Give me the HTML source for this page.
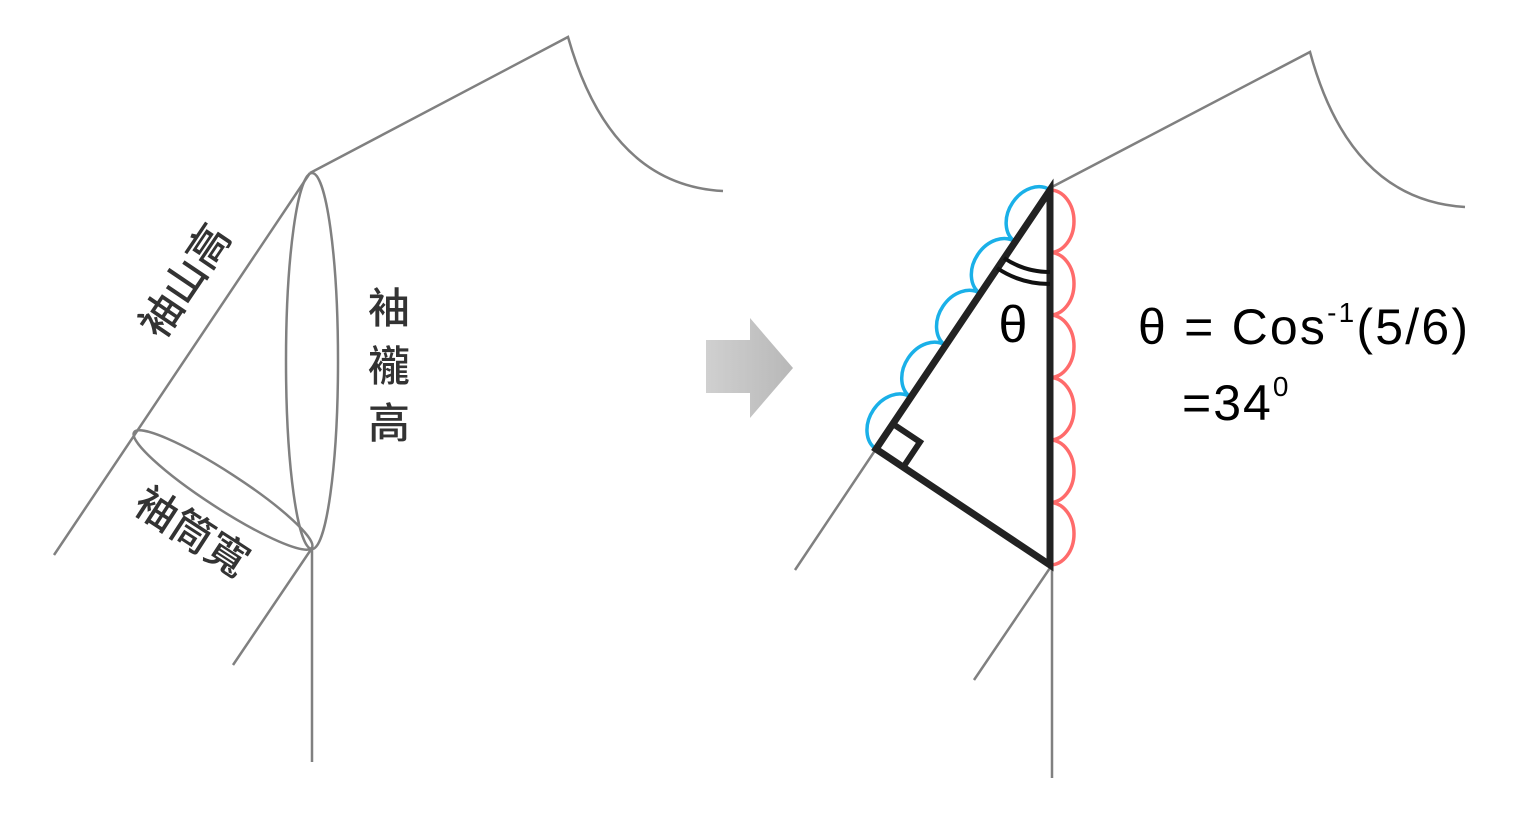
<!DOCTYPE html>
<html><head><meta charset="utf-8"><style>
html,body{margin:0;padding:0;background:#fff;}
svg{display:block}
.cjk{font-family:"Liberation Sans","Noto Sans CJK TC",sans-serif;fill:#333;font-weight:500}
.f{font-family:"Liberation Sans","DejaVu Sans",sans-serif;fill:#000}
</style></head><body>
<svg width="1536" height="823" viewBox="0 0 1536 823" xmlns="http://www.w3.org/2000/svg">
<defs><linearGradient id="g" x1="0" y1="0" x2="1" y2="0"><stop offset="0" stop-color="#d0d0d0"/><stop offset="1" stop-color="#b8b8b8"/></linearGradient></defs>
<g fill="none" stroke="#808080" stroke-width="2.5">
<path d="M310 173 L568 37 Q610 185 723 191"/>
<path d="M310 173 L54 555"/>
<path d="M312 548 L312 762 M312 548 L233 665"/>
<ellipse cx="312" cy="361" rx="26" ry="188"/>
<ellipse cx="223" cy="490" rx="106" ry="18" transform="rotate(33 223 490)"/>
<path d="M1050 188 L1310 52 Q1350 200 1465 207"/>
<path d="M876 449 L795 570 M1052 565 L974 680 M1052 565 L1052 778"/>
</g>
<text class="cjk" font-size="42" transform="translate(188,283) rotate(-56)" text-anchor="middle" dominant-baseline="middle">袖山高</text>
<text class="cjk" font-size="42" x="389" y="323" text-anchor="middle">袖</text>
<text class="cjk" font-size="42" x="389" y="381" text-anchor="middle">襱</text>
<text class="cjk" font-size="42" x="389" y="438" text-anchor="middle">高</text>
<text class="cjk" font-size="42" transform="translate(190,535) rotate(33)" text-anchor="middle" dominant-baseline="middle">袖筒寬</text>
<path d="M706 340 L750 340 L750 318 L793 368 L750 418 L750 393 L706 393 Z" fill="url(#g)"/>
<g fill="none" stroke-width="3.5">
<path stroke="#ff6b6b" d="M1050 190 A24 31.25 0 0 1 1050 252.5 A24 31.25 0 0 1 1050 315 A24 31.25 0 0 1 1050 377.5 A24 31.25 0 0 1 1050 440 A24 31.25 0 0 1 1050 502.5 A24 31.25 0 0 1 1050 565"/>
<path stroke="#1ab0e8" d="M876 449 A31.2 24 -56 0 1 910.8 397.2 A31.2 24 -56 0 1 945.6 345.4 A31.2 24 -56 0 1 980.4 293.6 A31.2 24 -56 0 1 1015.2 241.8 A31.2 24 -56 0 1 1050 190"/>
</g>
<g fill="none" stroke="#222" stroke-width="7" stroke-linejoin="miter">
<path d="M1050 190 L1050 565 L876 449 Z"/>
<path d="M893 424 L920 442 L902 469" stroke-width="6"/>
</g>
<g fill="none" stroke="#111" stroke-width="4">
<path d="M1050 272 A82 82 0 0 1 1004 258"/>
<path d="M1050 284 A94 94 0 0 1 997 268"/>
</g>
<text class="f" font-size="52" x="1013" y="342" text-anchor="middle">θ</text>
<text class="f" font-size="50" x="1138" y="344" textLength="330" lengthAdjust="spacing">θ = Cos<tspan font-size="28" dy="-22">-1</tspan><tspan dy="22">(5/6)</tspan></text>
<text class="f" font-size="50" x="1182" y="420" letter-spacing="2">=34<tspan font-size="28" dy="-24">0</tspan></text>
</svg>
</body></html>
